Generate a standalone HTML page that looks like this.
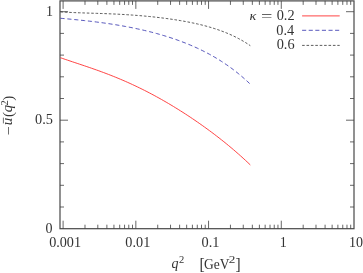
<!DOCTYPE html>
<html><head><meta charset="utf-8"><style>
html,body{margin:0;padding:0;background:#fff;overflow:hidden;}
svg{display:block;}
text{font-family:"Liberation Serif",serif;font-size:14px;fill:#333;}
</style></head><body>
<svg width="363" height="273" viewBox="0 0 363 273">
<rect width="363" height="273" fill="#fff"/>
<rect x="60.0" y="0.9" width="294.00" height="227.80" fill="none" stroke="#484848" stroke-width="1.2"/>
<path d="M63.10,228.7 v-8 M63.10,0.9 v8 M84.99,228.7 v-4 M84.99,0.9 v4 M97.80,228.7 v-4 M97.80,0.9 v4 M106.89,228.7 v-4 M106.89,0.9 v4 M113.94,228.7 v-4 M113.94,0.9 v4 M119.69,228.7 v-4 M119.69,0.9 v4 M124.56,228.7 v-4 M124.56,0.9 v4 M128.78,228.7 v-4 M128.78,0.9 v4 M132.50,228.7 v-4 M132.50,0.9 v4 M135.83,228.7 v-8 M135.83,0.9 v8 M157.72,228.7 v-4 M157.72,0.9 v4 M170.53,228.7 v-4 M170.53,0.9 v4 M179.62,228.7 v-4 M179.62,0.9 v4 M186.67,228.7 v-4 M186.67,0.9 v4 M192.42,228.7 v-4 M192.42,0.9 v4 M197.29,228.7 v-4 M197.29,0.9 v4 M201.51,228.7 v-4 M201.51,0.9 v4 M205.23,228.7 v-4 M205.23,0.9 v4 M208.56,228.7 v-8 M208.56,0.9 v8 M230.45,228.7 v-4 M230.45,0.9 v4 M243.26,228.7 v-4 M243.26,0.9 v4 M252.35,228.7 v-4 M252.35,0.9 v4 M259.40,228.7 v-4 M259.40,0.9 v4 M265.15,228.7 v-4 M265.15,0.9 v4 M270.02,228.7 v-4 M270.02,0.9 v4 M274.24,228.7 v-4 M274.24,0.9 v4 M277.96,228.7 v-4 M277.96,0.9 v4 M281.29,228.7 v-8 M281.29,0.9 v8 M303.18,228.7 v-4 M303.18,0.9 v4 M315.99,228.7 v-4 M315.99,0.9 v4 M325.08,228.7 v-4 M325.08,0.9 v4 M332.13,228.7 v-4 M332.13,0.9 v4 M337.88,228.7 v-4 M337.88,0.9 v4 M342.75,228.7 v-4 M342.75,0.9 v4 M346.97,228.7 v-4 M346.97,0.9 v4 M350.69,228.7 v-4 M350.69,0.9 v4 M60.0,207.00 h4 M354.0,207.00 h-4 M60.0,185.30 h4 M354.0,185.30 h-4 M60.0,163.60 h4 M354.0,163.60 h-4 M60.0,141.90 h4 M354.0,141.90 h-4 M60.0,120.20 h8 M354.0,120.20 h-8 M60.0,98.50 h4 M354.0,98.50 h-4 M60.0,76.80 h4 M354.0,76.80 h-4 M60.0,55.10 h4 M354.0,55.10 h-4 M60.0,33.40 h4 M354.0,33.40 h-4 M60.0,11.70 h8 M354.0,11.70 h-8" stroke="#404040" stroke-width="0.8" fill="none"/>
<path d="M60.40,57.70 L62.80,58.53 L65.21,59.36 L67.61,60.17 L70.02,60.98 L72.42,61.79 L74.82,62.59 L77.23,63.39 L79.63,64.19 L82.03,64.99 L84.44,65.80 L86.84,66.62 L89.25,67.44 L91.65,68.27 L94.05,69.11 L96.46,69.96 L98.86,70.82 L101.26,71.70 L103.67,72.59 L106.07,73.49 L108.48,74.41 L110.88,75.35 L113.28,76.30 L115.69,77.27 L118.09,78.26 L120.49,79.27 L122.90,80.29 L125.30,81.33 L127.71,82.40 L130.11,83.48 L132.51,84.58 L134.92,85.71 L137.32,86.85 L139.73,88.01 L142.13,89.20 L144.53,90.40 L146.94,91.62 L149.34,92.87 L151.74,94.14 L154.15,95.42 L156.55,96.73 L158.96,98.05 L161.36,99.40 L163.76,100.77 L166.17,102.16 L168.57,103.56 L170.97,104.99 L173.38,106.44 L175.78,107.91 L178.19,109.40 L180.59,110.91 L182.99,112.43 L185.40,113.98 L187.80,115.55 L190.21,117.14 L192.61,118.76 L195.01,120.39 L197.42,122.04 L199.82,123.71 L202.22,125.41 L204.63,127.13 L207.03,128.87 L209.44,130.63 L211.84,132.42 L214.24,134.23 L216.65,136.07 L219.05,137.93 L221.45,139.82 L223.86,141.73 L226.26,143.67 L228.67,145.65 L231.07,147.65 L233.47,149.68 L235.88,151.75 L238.28,153.85 L240.68,155.98 L243.09,158.16 L245.49,160.37 L247.90,162.62 L250.30,164.91" stroke="#ff3030" stroke-width="0.9" fill="none"/>
<path d="M60.40,18.26 L62.80,18.47 L65.21,18.69 L67.61,18.91 L70.02,19.13 L72.42,19.36 L74.82,19.60 L77.23,19.84 L79.63,20.08 L82.03,20.33 L84.44,20.59 L86.84,20.85 L89.25,21.13 L91.65,21.41 L94.05,21.70 L96.46,22.00 L98.86,22.31 L101.26,22.63 L103.67,22.95 L106.07,23.29 L108.48,23.64 L110.88,24.00 L113.28,24.38 L115.69,24.76 L118.09,25.16 L120.49,25.57 L122.90,25.99 L125.30,26.43 L127.71,26.88 L130.11,27.34 L132.51,27.82 L134.92,28.32 L137.32,28.83 L139.73,29.35 L142.13,29.89 L144.53,30.45 L146.94,31.03 L149.34,31.62 L151.74,32.23 L154.15,32.86 L156.55,33.51 L158.96,34.18 L161.36,34.87 L163.76,35.58 L166.17,36.32 L168.57,37.07 L170.97,37.85 L173.38,38.66 L175.78,39.48 L178.19,40.34 L180.59,41.22 L182.99,42.13 L185.40,43.06 L187.80,44.03 L190.21,45.03 L192.61,46.05 L195.01,47.12 L197.42,48.21 L199.82,49.34 L202.22,50.51 L204.63,51.72 L207.03,52.96 L209.44,54.25 L211.84,55.58 L214.24,56.95 L216.65,58.37 L219.05,59.84 L221.45,61.36 L223.86,62.93 L226.26,64.55 L228.67,66.22 L231.07,67.96 L233.47,69.75 L235.88,71.61 L238.28,73.53 L240.68,75.51 L243.09,77.57 L245.49,79.69 L247.90,81.89 L250.30,84.17" stroke="#3a3ab0" stroke-width="0.85" fill="none" stroke-dasharray="4.2 2.7"/>
<path d="M60.40,11.80 L62.80,11.98 L65.21,12.13 L67.61,12.27 L70.02,12.40 L72.42,12.52 L74.82,12.62 L77.23,12.72 L79.63,12.81 L82.03,12.89 L84.44,12.97 L86.84,13.04 L89.25,13.12 L91.65,13.19 L94.05,13.27 L96.46,13.34 L98.86,13.42 L101.26,13.50 L103.67,13.59 L106.07,13.67 L108.48,13.77 L110.88,13.87 L113.28,13.97 L115.69,14.09 L118.09,14.20 L120.49,14.33 L122.90,14.46 L125.30,14.61 L127.71,14.76 L130.11,14.91 L132.51,15.08 L134.92,15.26 L137.32,15.44 L139.73,15.64 L142.13,15.84 L144.53,16.06 L146.94,16.28 L149.34,16.51 L151.74,16.76 L154.15,17.01 L156.55,17.28 L158.96,17.56 L161.36,17.85 L163.76,18.15 L166.17,18.46 L168.57,18.79 L170.97,19.13 L173.38,19.49 L175.78,19.85 L178.19,20.24 L180.59,20.64 L182.99,21.05 L185.40,21.49 L187.80,21.94 L190.21,22.41 L192.61,22.91 L195.01,23.42 L197.42,23.96 L199.82,24.52 L202.22,25.11 L204.63,25.73 L207.03,26.37 L209.44,27.05 L211.84,27.76 L214.24,28.50 L216.65,29.28 L219.05,30.11 L221.45,30.97 L223.86,31.88 L226.26,32.83 L228.67,33.83 L231.07,34.89 L233.47,36.01 L235.88,37.18 L238.28,38.42 L240.68,39.72 L243.09,41.09 L245.49,42.54 L247.90,44.06 L250.30,45.67" stroke="#333" stroke-width="0.8" fill="none" stroke-dasharray="2.6 1.8"/>
<path d="M302.1,15.9 H339.7" stroke="#ff3030" stroke-width="0.9" fill="none"/>
<path d="M302.1,30.3 H339.7" stroke="#3a3ab0" stroke-width="0.85" fill="none" stroke-dasharray="4.1 2.5"/>
<path d="M302.1,45.4 H339.7" stroke="#333" stroke-width="0.8" fill="none" stroke-dasharray="2.6 1.8"/>
<g style="filter:grayscale(1)">
<text x="249.5" y="20.1" style="font-style:italic;font-size:13.2px" textLength="6.8" lengthAdjust="spacingAndGlyphs">κ</text>
<text x="260.9" y="21.1" textLength="11.4" lengthAdjust="spacingAndGlyphs">=</text>
<text x="276.71" y="20.2" textLength="17.89" lengthAdjust="spacingAndGlyphs">0.2</text>
<text x="276.31" y="34.6" textLength="17.89" lengthAdjust="spacingAndGlyphs">0.4</text>
<text x="276.71" y="48.9" textLength="17.89" lengthAdjust="spacingAndGlyphs">0.6</text>
<text x="49.15" y="247.0" textLength="31.89" lengthAdjust="spacingAndGlyphs">0.001</text>
<text x="125.38" y="247.0" textLength="24.89" lengthAdjust="spacingAndGlyphs">0.01</text>
<text x="201.61" y="247.0" textLength="17.89" lengthAdjust="spacingAndGlyphs">0.1</text>
<text x="279.79" y="247.0" textLength="7.00" lengthAdjust="spacingAndGlyphs">1</text>
<text x="349.02" y="247.0" textLength="14.00" lengthAdjust="spacingAndGlyphs">10</text>
<text x="45.40" y="232.6" textLength="7.00" lengthAdjust="spacingAndGlyphs">0</text>
<text x="35.11" y="124.1" textLength="17.89" lengthAdjust="spacingAndGlyphs">0.5</text>
<text x="46.00" y="15.6" textLength="7.00" lengthAdjust="spacingAndGlyphs">1</text>
<text x="171.4" y="268.4" style="font-style:italic;font-size:14px">q</text>
<text x="178.9" y="263.2" style="font-size:10.5px">2</text>
<text transform="translate(199.4,269.5) scale(1,1.09)" style="font-size:15.5px">[</text>
<text x="203.9" y="268.8" textLength="25.5" lengthAdjust="spacingAndGlyphs" style="font-size:14px">GeV</text>
<text x="228.8" y="263.0" style="font-size:10.5px" textLength="6.6" lengthAdjust="spacingAndGlyphs">2</text>
<text transform="translate(235.6,269.5) scale(1,1.09)" style="font-size:15.5px">]</text>
<g transform="translate(11.8,135) rotate(-90)"><text x="-0.2" y="1.4" textLength="9.2" lengthAdjust="spacingAndGlyphs">−</text><text x="9.8" y="0" style="font-style:italic;font-size:15px">u</text><path d="M11.6,-8.4 h5.8" stroke="#333" stroke-width="0.7"/><text x="17.9" y="0.7" style="font-size:15px">(</text><text x="22.8" y="0.6" style="font-style:italic;font-size:14.5px">q</text><text x="29.4" y="-3.5" style="font-size:10.5px">2</text><text x="34.3" y="0.7" style="font-size:15px">)</text></g>
</g>
</svg>
</body></html>
